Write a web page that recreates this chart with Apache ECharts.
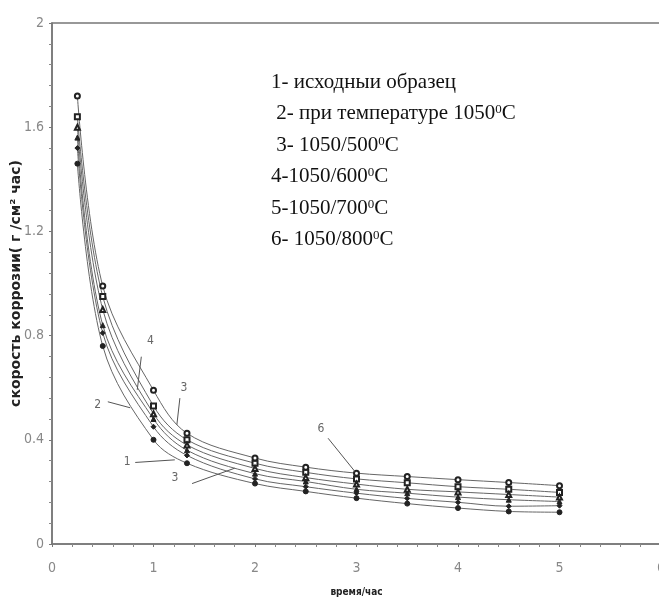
<!DOCTYPE html>
<html><head><meta charset="utf-8">
<script src="https://cdn.jsdelivr.net/npm/echarts@6/dist/echarts.min.js"></script>
<style>html,body{margin:0;padding:0;background:#fff}#c{width:659px;height:603px}</style>
</head><body><div id="c"></div>
<script>
// time, hours
const hours = [0.25, 0.5, 1, 1.33, 2, 2.5, 3, 3.5, 4, 4.5, 5];
// corrosion rate series
const s1 = [1.46, 0.76, 0.40, 0.31, 0.232, 0.202, 0.176, 0.155, 0.138, 0.125, 0.122];
const s2 = [1.52, 0.81, 0.45, 0.34, 0.25, 0.22, 0.195, 0.175, 0.16, 0.145, 0.147];
const s3 = [1.56, 0.84, 0.48, 0.36, 0.27, 0.24, 0.21, 0.195, 0.18, 0.17, 0.163];
const s4 = [1.64, 0.95, 0.53, 0.40, 0.31, 0.275, 0.25, 0.235, 0.22, 0.21, 0.198];
const s5 = [1.60, 0.90, 0.50, 0.38, 0.29, 0.255, 0.23, 0.21, 0.20, 0.19, 0.18];
const s6 = [1.72, 0.99, 0.59, 0.425, 0.33, 0.295, 0.272, 0.259, 0.247, 0.236, 0.224];
const seriesNames = ['1', '2', '3', '4', '5', '6'];
const seriesValues = [s1, s2, s3, s4, s5, s6];
const seriesSymbols = ['circle', 'diamond', 'triangle', 'emptyRect', 'emptyTriangle', 'emptyCircle'];
const legendLines = [
  '1- исходныи образец',
  ' 2- при температуре 1050{s|0}C',
  ' 3- 1050/500{s|0}C',
  '4-1050/600{s|0}C',
  '5-1050/700{s|0}C',
  '6- 1050/800{s|0}C'
];
const yTitle = 'скорость коррозии( г /см² час)';
const xTitle = 'время/час';
// curve annotations: label, text anchor (data), leader line (data)
const annLabels = ['4', '2', '3', '1', '3', '6'];
const annText = [[0.97, 0.78], [0.45, 0.534], [1.30, 0.60], [0.74, 0.317], [1.21, 0.255], [2.65, 0.441]];
const annLine = [
  [[0.88, 0.719], [0.84, 0.592]],
  [[0.55, 0.546], [0.77, 0.523]],
  [[1.26, 0.56], [1.23, 0.457]],
  [[0.82, 0.313], [1.21, 0.323]],
  [[1.38, 0.232], [1.80, 0.291]],
  [[2.72, 0.406], [2.985, 0.278]]
];

const chart = echarts.init(document.getElementById('c'), null, {renderer: 'canvas'});
const tickFont = 'Liberation Sans Narrow, DejaVu Sans Condensed, sans-serif';
const series = seriesValues.map((vals, i) => ({
  name: seriesNames[i],
  type: 'line',
  smooth: 0.35,
  data: hours.map((h, j) => [h, vals[j]]),
  symbol: seriesSymbols[i],
  symbolSize: 5,
  showSymbol: true,
  lineStyle: {color: '#666', width: 1},
  itemStyle: {color: '#222', borderColor: '#222', borderWidth: 1},
  emphasis: {disabled: true},
  z: 3
}));

chart.setOption({
  animation: false,
  backgroundColor: '#fff',
  grid: {left: 52, top: 23, right: -2, bottom: 59, outerBoundsMode: 'none', containLabel: false, show: true, borderColor: '#777', borderWidth: 1.5, backgroundColor: 'transparent'},
  xAxis: {
    type: 'value', min: 0, max: 6, interval: 1,
    name: xTitle, nameLocation: 'middle', nameGap: 43, nameMoveOverlap: false,
    nameTextStyle: {fontFamily: 'DejaVu Sans Condensed', fontWeight: 'bold', fontSize: 10, color: '#222'},
    axisLine: {lineStyle: {color: '#777', width: 1.5}},
    axisTick: {show: true, inside: false, length: 3, lineStyle: {color: '#777'}},
    minorTick: {show: true, splitNumber: 5, length: 3, lineStyle: {color: '#888'}},
    axisLabel: {fontFamily: tickFont, fontSize: 14, color: '#888', margin: 17},
    splitLine: {show: false}
  },
  yAxis: {
    type: 'value', min: 0, max: 2, interval: 0.4,
    name: yTitle, nameLocation: 'middle', nameRotate: 90, nameGap: 29, nameMoveOverlap: false,
    nameTextStyle: {fontFamily: 'DejaVu Sans', fontWeight: 'bold', fontSize: 14, color: '#222'},
    axisLine: {lineStyle: {color: '#777', width: 1.5}},
    axisTick: {show: true, inside: false, length: 3, lineStyle: {color: '#777'}},
    minorTick: {show: true, splitNumber: 5, length: 3, lineStyle: {color: '#888'}},
    axisLabel: {fontFamily: tickFont, fontSize: 14, color: '#888', margin: 8},
    splitLine: {show: false}
  },
  series: series
});

const graphics = [];
const legendTop0 = 82.7, legendStep = 31.5;
legendLines.forEach((t, i) => {
  graphics.push({
    type: 'text', left: 271, top: legendTop0 + i * legendStep - 11,
    style: {
      text: t, fontFamily: 'Liberation Serif, Times New Roman, serif', fontSize: 21, fill: '#111',
      rich: {s: {fontFamily: 'Liberation Serif, serif', fontSize: 13, verticalAlign: 'top', fill: '#111', padding: [0, 0, 8, 0]}}
    },
    z: 10
  });
});
annLabels.forEach((lab, i) => {
  const tp = chart.convertToPixel({gridIndex: 0}, annText[i]);
  const a = chart.convertToPixel({gridIndex: 0}, annLine[i][0]);
  const b = chart.convertToPixel({gridIndex: 0}, annLine[i][1]);
  graphics.push({type: 'text', x: tp[0], y: tp[1], style: {text: lab, fontFamily: tickFont, fontSize: 12, fill: '#666', align: 'center', verticalAlign: 'middle'}, z: 10});
  graphics.push({type: 'line', shape: {x1: a[0], y1: a[1], x2: b[0], y2: b[1]}, style: {stroke: '#555', lineWidth: 1}, z: 10});
});
chart.setOption({graphic: graphics});
</script></body></html>
